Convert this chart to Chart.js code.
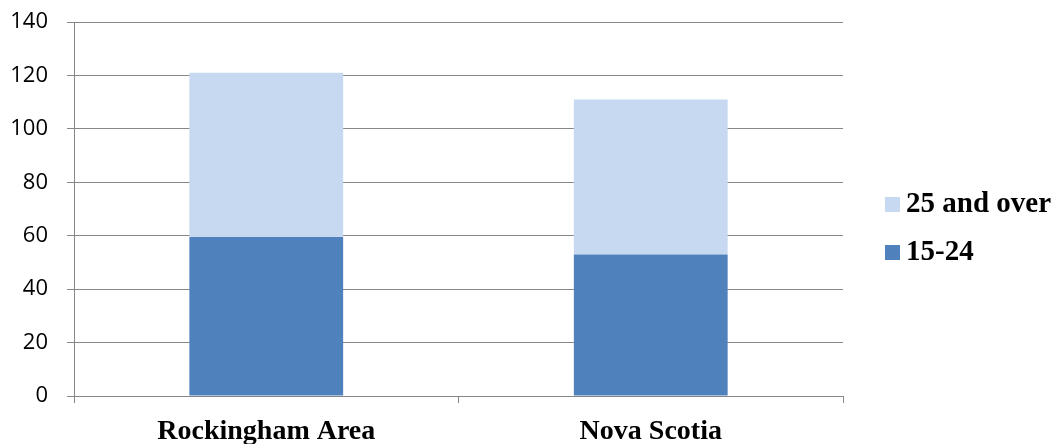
<!DOCTYPE html>
<html>
<head>
<meta charset="utf-8">
<script src="https://cdn.jsdelivr.net/npm/chart.js@4/dist/chart.umd.min.js"></script>
<style>
html,body{margin:0;padding:0;background:#fff;}
#wrap{width:1057px;height:444px;position:relative;}
</style>
</head>
<body>
<div id="wrap"><canvas id="c" width="1057" height="444"></canvas></div>
<script>
const categories = ["Rockingham Area", "Nova Scotia"];
const youth = [59.5, 53];        // 15-24
const adults = [61.5, 58];       // 25 and over (stacked on top)
const seriesNames = ["15-24", "25 and over"];
const yTicks = [0, 20, 40, 60, 80, 100, 120, 140];

const colDark = "#4F81BD";
const colLight = "#C6D9F1";
const gridCol = "#878787";

const legendPlugin = {
  id: "customLegend",
  afterDraw(chart) {
    const ctx = chart.ctx;
    ctx.save();
    const items = chart.data.datasets.slice().reverse();
    const ys = [204, 252];
    ctx.font = "bold 29px 'Liberation Serif', 'Times New Roman', serif";
    ctx.textBaseline = "middle";
    ctx.textAlign = "left";
    items.forEach((ds, i) => {
      ctx.fillStyle = ds.backgroundColor;
      ctx.fillRect(885, ys[i] - 7, 15, 15);
      ctx.fillStyle = "#000";
      ctx.fillText(ds.label, 906, ys[i] + 1);
    });
    ctx.restore();
  }
};

new Chart(document.getElementById("c"), {
  type: "bar",
  data: {
    labels: categories,
    datasets: [
      { label: seriesNames[0], data: youth, backgroundColor: colDark, barPercentage: 0.4, categoryPercentage: 1.0 },
      { label: seriesNames[1], data: adults, backgroundColor: colLight, barPercentage: 0.4, categoryPercentage: 1.0 }
    ]
  },
  options: {
    responsive: false,
    animation: false,
    layout: { padding: { top: 22, right: 214, left: 0, bottom: 0 } },
    plugins: { legend: { display: false }, tooltip: { enabled: false } },
    scales: {
      x: {
        stacked: true,
        grid: { offset: true, drawOnChartArea: false, drawTicks: true, tickLength: 7, color: gridCol, lineWidth: 1 },
        border: { color: gridCol, width: 1 },
        ticks: { color: "#000", padding: 12, font: { family: "'Liberation Serif', 'Times New Roman', serif", size: 28, weight: "bold" } },
        afterFit(s) { s.height = 48; s.paddingLeft = 0; s.paddingRight = 0; }
      },
      y: {
        stacked: true,
        min: 0, max: 140,
        afterBuildTicks(s) { s.ticks = yTicks.map(v => ({ value: v })); },
        grid: { color: gridCol, lineWidth: 1, tickLength: 7, drawTicks: true },
        border: { color: gridCol, width: 1 },
        ticks: { color: "#000", padding: 19, font: { family: "'Open Sans', sans-serif", size: 22 } },
        afterFit(s) { s.width = 74; s.paddingTop = 0; s.paddingBottom = 0; }
      }
    }
  },
  plugins: [legendPlugin]
});
</script>
</body>
</html>
